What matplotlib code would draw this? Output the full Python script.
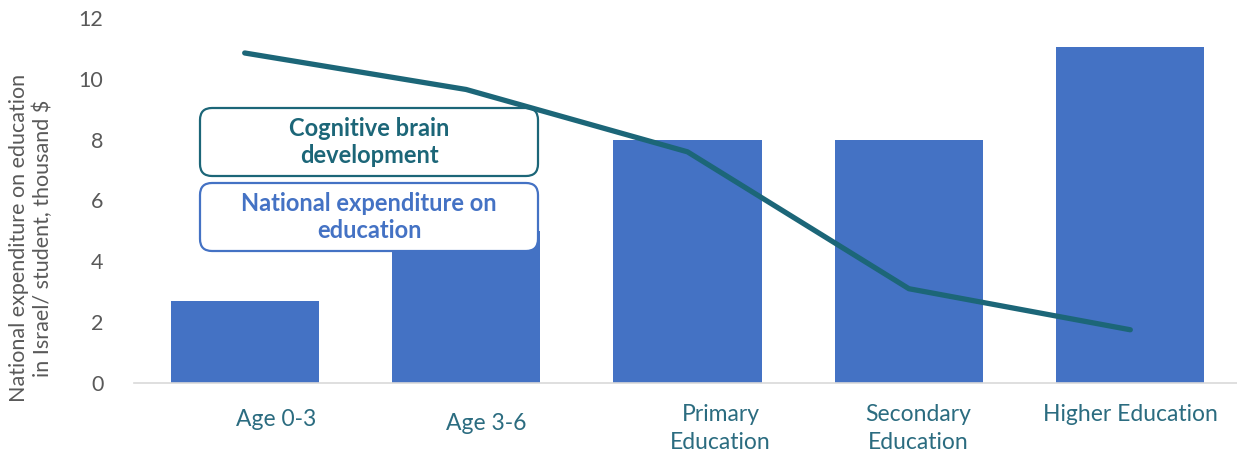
import matplotlib.pyplot as plt
from matplotlib.patches import FancyBboxPatch
from matplotlib.transforms import IdentityTransform, blended_transform_factory

categories = ['Age 0-3', 'Age 3-6', 'Primary\nEducation', 'Secondary\nEducation', 'Higher Education']
expenditure = [2.7, 5.0, 8.0, 8.0, 11.05]
brain_dev = [10.85, 9.65, 7.6, 3.1, 1.75]

# label nudges (in category units) and vertical placement (pixels from top)
label_dx = [0.14, 0.09, 0.15, 0.04, 0.0]
label_top = [409, 413, 404, 404, 404]

plt.rcParams['font.family'] = ['Lato', 'DejaVu Sans']

W, H = 1237, 455
fig = plt.figure(figsize=(W / 100, H / 100), dpi=100)
ax = fig.add_axes([134 / W, 1 - 383 / H, 1107 / W, 365 / H])

bar_col = '#4472C4'
line_col = '#1C6678'
tick_col = '#2B6C80'
gray = '#595959'

x = list(range(len(categories)))
ax.bar(x, expenditure, width=0.67, color=bar_col, zorder=2)
ax.plot(x, brain_dev, color=line_col, lw=3.8, solid_capstyle='round', zorder=5)

ax.set_xlim(-0.5, 4.5)
ax.set_ylim(0, 12)
ax.set_yticks(range(0, 13, 2))
ax.tick_params(axis='y', length=0, pad=22, labelsize=15.5, labelcolor=gray)
ax.set_xticks([])
for s in ['top', 'right', 'left']:
    ax.spines[s].set_visible(False)
ax.spines['bottom'].set_color('#D9D9D9')
ax.spines['bottom'].set_linewidth(1.2)

trans = blended_transform_factory(ax.transData, IdentityTransform())
for i, lab in enumerate(categories):
    ax.text(i + label_dx[i], H - label_top[i], lab, transform=trans, ha='center', va='top',
            fontsize=16.5, color=tick_col, linespacing=1.4, clip_on=False)

fig.text(31 / W, 1 - 238 / H, 'National expenditure on education\nin Israel/ student, thousand $',
         rotation=90, ha='center', va='center', fontsize=15.5, color=gray, linespacing=1.2)

# legend-style boxes
boxes = [(108, 176, line_col, 'Cognitive brain\ndevelopment'),
         (183, 251, bar_col, 'National expenditure on\neducation')]
for top, bot, col, txt in boxes:
    p = FancyBboxPatch((200, H - bot), 338, bot - top, boxstyle='round,pad=0,rounding_size=12',
                       transform=IdentityTransform(), facecolor='white', edgecolor=col,
                       linewidth=1.6, zorder=4)
    ax.add_patch(p)
    ax.text(369, H - (top + bot) / 2, txt, transform=IdentityTransform(), ha='center', va='center',
            fontsize=17, fontweight='bold', color=col, linespacing=1.2, zorder=4.5)

fig.savefig('out.png', dpi=100)
